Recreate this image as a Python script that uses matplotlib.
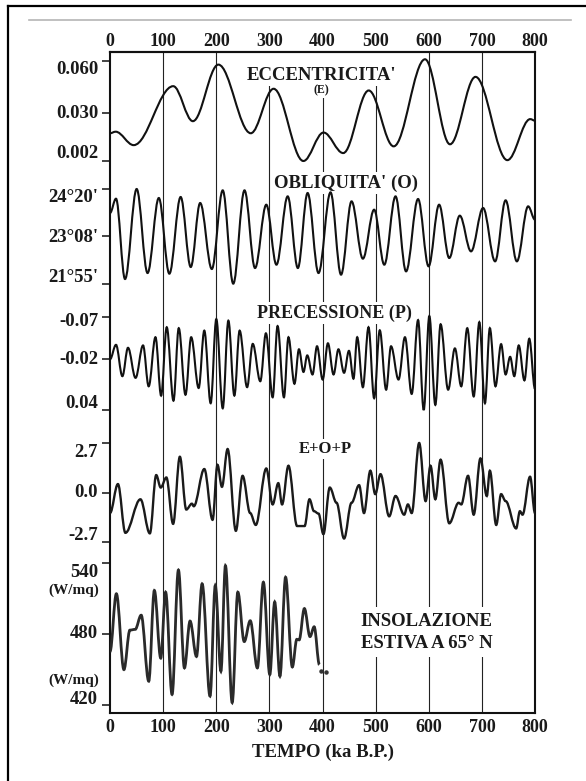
import matplotlib
matplotlib.use("Agg")
import matplotlib.pyplot as plt
from matplotlib.path import Path
from matplotlib.patches import PathPatch
from matplotlib.lines import Line2D

# ---------------- data ----------------
TIME_TICKS = [0, 100, 200, 300, 400, 500, 600, 700, 800]

# Eccentricity: extrema (ka, value)
ECC_T = [0, 10.6, 44.6, 119, 156, 204, 265, 308, 364, 402, 439, 487, 534, 593, 640, 688, 748, 791, 800]
ECC_V = [0.0181, 0.019, 0.0112, 0.0454, 0.0251, 0.0579, 0.0181, 0.0439, 0.002, 0.0185,
         0.0066, 0.0429, 0.0105, 0.061, 0.0117, 0.0508, 0.0025, 0.0263, 0.0254]
ECC_TICKS = [0.060, 0.030, 0.002]
ECC_LABELS = ["0.060", "0.030", "0.002"]

# Obliquity (degrees)
OBL_T = [0, 11.3, 28.3, 50.2, 70.7, 91.9, 111.7, 133, 152, 169.7, 191.7, 212.2, 232, 253.2,
         273, 294.2, 313.3, 334.5, 353.6, 372, 392.5, 415.1, 434.9, 454.7, 476, 497.2, 516.3,
         537.5, 557.3, 579.9, 599.7, 619.5, 638.6, 658.4, 679.6, 702.3, 724.9, 744.7, 765.9,
         787.1, 800]
OBL_V = [23.723, 24.087, 22.043, 24.333, 22.196, 24.104, 22.179, 24.13, 22.349, 23.977,
         22.298, 24.299, 21.925, 24.299, 22.323, 23.934, 22.408, 24.146, 22.323, 24.231,
         22.196, 24.248, 22.154, 24.019, 22.561, 23.807, 22.408, 24.146, 22.238, 24.079,
         22.366, 23.934, 22.578, 23.655, 22.747, 23.85, 22.493, 24.045, 22.493, 23.892, 23.553]
OBL_TICKS = [24 + 20 / 60, 23 + 8 / 60, 21 + 55 / 60]
OBL_LABELS = ["24°20'", "23°08'", "21°55'"]

# Precession index (axis inverted): start, peaks, troughs, end
PREC_START = (0, -0.020)
PREC_PEAK_T = [11.3, 33.9, 62.2, 85.6, 106.8, 129.4, 152.8, 177.5, 200.1, 222.8, 244, 268.7,
               293.5, 315.4, 335.9, 355.7, 371.3, 389.7, 410.2, 430, 449.8, 465.3, 486.6,
               507.8, 529, 555.2, 579.9, 601.1, 622.3, 649.2, 672.5, 695.2, 715, 736.2,
               753.2, 769.4, 789.2]
PREC_PEAK_V = [-0.0371, -0.0336, -0.0364, -0.0461, -0.0579, -0.0568, -0.0461, -0.0539,
               -0.0675, -0.0657, -0.0539, -0.0382, -0.0507, -0.0593, -0.0461, -0.0318,
               -0.0246, -0.0354, -0.0389, -0.0318, -0.030, -0.0461, -0.0579, -0.0543,
               -0.0354, -0.0461, -0.0664, -0.0711, -0.0614, -0.0329, -0.0568, -0.0639,
               -0.0568, -0.0379, -0.0229, -0.0364, -0.0443]
PREC_TROUGH_T = [23.3, 48.1, 72.8, 96.2, 119.5, 142.1, 166.9, 189.5, 212.2, 234.1, 258.1,
                 282.9, 306.2, 327.4, 347.2, 364.2, 381.2, 400.3, 420.8, 440.6, 458.3, 476,
                 497.2, 519.8, 543.1, 567.9, 590.5, 612.4, 636.5, 661.2, 684.6, 705.8,
                 725.6, 744.7, 761, 780.1]
PREC_TROUGH_V = [0.0, 0.002, 0.012, 0.023, 0.029, 0.022, 0.014, 0.032, 0.038, 0.023, 0.013,
                 0.006, 0.025, 0.025, 0.009, -0.005, -0.002, 0.004, -0.002, -0.004, 0.003,
                 0.013, 0.026, 0.016, 0.004, 0.021, 0.040, 0.034, 0.016, 0.012, 0.024, 0.032,
                 0.012, -0.002, 0.0, 0.005]
PREC_END = (800, 0.015)
PREC_TICKS = [-0.07, -0.02, 0.04]
PREC_LABELS = ["-0.07", "-0.02", "0.04"]

# E+O+P combined
EOP_T = [0, 14.9, 29, 57.3, 75, 87, 95.5, 106.1, 118.8, 131.5, 143.6, 154.2, 157.7, 177.5,
         193.1, 202.3, 210.7, 221.4, 236.9, 249.6, 263.8, 274.4, 294.2, 306.2, 316.8, 323.9,
         335.9, 352.2, 366.3, 375.5, 384, 392.5, 401.7, 413.7, 426.4, 440.6, 454.7, 468.9,
         478.1, 490.1, 499.3, 509.2, 525.5, 537.5, 553.7, 560.8, 567.9, 582, 594.1, 603.3,
         612.4, 622.3, 638.6, 656.3, 661.2, 674, 684.6, 697.3, 709.3, 715, 727, 736.2,
         744.7, 764.5, 771.6, 776.5, 790.7, 800]
EOP_V = [-1.12, 0.46, -2.20, -0.37, -2.23, 0.95, 0.27, 0.82, -1.71, 1.95, -0.93, -0.61,
         -0.75, 1.28, -1.49, 1.51, 0.31, 2.37, -2.09, 0.91, -1.12, -1.77, 1.31, -0.65, 0.51,
         -0.65, 1.46, -1.83, -1.83, -0.37, -1.02, -1.15, -2.27, 0.27, -0.56, -2.51, -0.56,
         0.40, -1.12, 1.19, -0.09, 1.00, -1.30, -0.19, -1.21, -0.65, -1.12, 2.70, -0.47,
         1.46, -0.37, 1.79, -1.68, -0.56, -0.65, 0.91, -1.21, 1.86, -0.19, 1.19, -1.77,
         -0.09, -0.47, -1.96, -1.02, -1.21, 0.86, -1.12]
EOP_TICKS = [2.7, 0.0, -2.7]
EOP_LABELS = ["2.7", "0.0", "-2.7"]

# Summer insolation at 65 N (W/m2), only first ~400 ka
INS_T = [0, 12, 26.2, 37.5, 47.4, 58.7, 72.9, 83.5, 95.5, 104.7, 116.8, 128.8, 140.1, 150.7,
         162.8, 173.4, 188.3, 198.2, 208.8, 217.3, 230, 240.6, 252.7, 264, 277.4, 288.7,
         300.8, 310, 319.9, 330.5, 343.2, 351.7, 356, 365.9, 376.5, 384.3, 394.2]
INS_V = [465.2, 514, 449.9, 483.3, 483.9, 495.9, 440.1, 516.8, 459.6, 515.4, 428.9, 534.1,
         451.3, 490.9, 461, 522.4, 427.5, 521, 448.5, 537.8, 422, 515.4, 473.6, 491.2, 451.3,
         523.8, 445.7, 507.1, 444.3, 528, 452.1, 475.5, 475, 501.5, 477.8, 486.1, 454.1]
INS_DOTS_T = [398, 407]
INS_DOTS_V = [449, 448]
INS_TICKS = [540, 480, 420]
INS_LABELS = ["540", "480", "420"]

# ---------------- layout ----------------
W, H = 586, 781
BOX_L, BOX_R, BOX_T, BOX_B = 110, 535, 52, 713
FONT = "Liberation Serif"
TXT = "#1a1a1a"
# pixel row where each inner vertical line starts (some begin below the top title)
VLINE_TOP = {100: 52, 200: 52, 300: 84, 400: 90, 500: 82, 600: 52, 700: 52}

fig = plt.figure(figsize=(W / 100, H / 100), dpi=100)
fig.patch.set_facecolor("white")


def fx(px):
    return px / W


def fy(py):
    return 1 - py / H


def yfrac(py):
    return (BOX_B - py) / (BOX_B - BOX_T)


rect = [fx(BOX_L), fy(BOX_B), fx(BOX_R) - fx(BOX_L), fy(BOX_T) - fy(BOX_B)]

# main frame axes
ax = fig.add_axes(rect)
ax.set_xlim(0, 800)
ax.set_ylim(0, 1)
for s in ax.spines.values():
    s.set_linewidth(1.5)
    s.set_color("#111111")
ax.set_yticks([])
ax.set_xticks(TIME_TICKS)
ax.set_xticklabels([str(t) for t in TIME_TICKS])
ax.tick_params(axis="x", bottom=True, labelbottom=True, length=0, pad=4.5,
               labelsize=13, labelcolor=TXT)
for lab in ax.get_xticklabels():
    lab.set_fontfamily(FONT)
    lab.set_fontweight("bold")

sec = ax.secondary_xaxis("top")
sec.set_xticks(TIME_TICKS)
sec.set_xticklabels([str(t) for t in TIME_TICKS])
sec.tick_params(axis="x", length=0, pad=1.5, labelsize=13, labelcolor=TXT)
sec.spines["top"].set_linewidth(1.5)
sec.spines["top"].set_color("#111111")
for lab in sec.get_xticklabels():
    lab.set_fontfamily(FONT)
    lab.set_fontweight("bold")

for t in TIME_TICKS[1:-1]:
    ax.vlines(t, 0, yfrac(VLINE_TOP[t]), color="#222222", lw=0.8, zorder=1)


def title(x, py, s, size=13.5, ha="center", pad=1.5):
    ax.text(x, yfrac(py), s, ha=ha, va="center", fontsize=size, fontfamily=FONT,
            fontweight="bold", color=TXT, zorder=3,
            bbox=dict(facecolor="white", edgecolor="none", pad=pad))


title(398, 75, "ECCENTRICITA'")
title(398, 90, "(E)", size=8.5)
title(444, 183, "OBLIQUITA' (O)")
title(423, 313, "PRECESSIONE (P)", size=13)
title(406, 449, "E+O+P", size=12)
title(472, 621, "INSOLAZIONE", size=13.5, ha="left", pad=4)
title(472, 643, "ESTIVA A 65° N", size=13.5, ha="left", pad=4)

ax.text(400, yfrac(752), "TEMPO (ka B.P.)", ha="center", va="center", fontsize=13.5,
        fontfamily=FONT, fontweight="bold", color=TXT)


def smooth_path(xs, ys, k=0.36):
    verts = [(xs[0], ys[0])]
    codes = [Path.MOVETO]
    for i in range(1, len(xs)):
        dx = xs[i] - xs[i - 1]
        verts += [(xs[i - 1] + k * dx, ys[i - 1]), (xs[i] - k * dx, ys[i]), (xs[i], ys[i])]
        codes += [Path.CURVE4] * 3
    return Path(verts, codes)


def panel(anchor1, anchor2, ticks, labels, label_dy):
    """Sub-axes over full box; anchors give (value, pixel row) of two ticks."""
    (v1, p1), (v2, p2) = anchor1, anchor2
    slope = (v2 - v1) / (p2 - p1)
    vb = v1 + (BOX_B - p1) * slope
    vt = v1 + (BOX_T - p1) * slope
    a = fig.add_axes(rect, sharex=ax)
    a.set_ylim(vb, vt)
    a.patch.set_visible(False)
    for s in a.spines.values():
        s.set_visible(False)
    a.tick_params(axis="x", bottom=False, top=False, labelbottom=False, labeltop=False)
    a.set_yticks(ticks)
    a.set_yticklabels([])
    a.tick_params(axis="y", direction="out", length=5.8, width=1.1, color="#111111")
    for t, lab, dy in zip(ticks, labels, label_dy):
        a.annotate(lab, xy=(0, t), xycoords=("axes fraction", "data"),
                   xytext=(-8.5, -dy / 1.389), textcoords="offset points",
                   ha="right", va="center", fontsize=13.5, fontfamily=FONT,
                   fontweight="bold", color=TXT, annotation_clip=False)
    return a


# eccentricity
a_e = panel((0.060, 61), (0.002, 161), ECC_TICKS, ECC_LABELS, [9, 1, -8])
a_e.add_patch(PathPatch(smooth_path(ECC_T, ECC_V), fill=False, lw=1.5, ec="#111111"))

# obliquity
a_o = panel((OBL_TICKS[0], 189), (OBL_TICKS[2], 284), OBL_TICKS, OBL_LABELS, [9, 1, -7])
a_o.add_patch(PathPatch(smooth_path(OBL_T, OBL_V), fill=False, lw=1.5, ec="#111111"))

# precession
pt, pv = [PREC_START[0]], [PREC_START[1]]
for i in range(len(PREC_PEAK_T)):
    pt.append(PREC_PEAK_T[i]); pv.append(PREC_PEAK_V[i])
    if i < len(PREC_TROUGH_T):
        pt.append(PREC_TROUGH_T[i]); pv.append(PREC_TROUGH_V[i])
pt.append(PREC_END[0]); pv.append(PREC_END[1])
a_p = panel((-0.07, 317), (0.04, 410), PREC_TICKS, PREC_LABELS, [5, 0, -7])
a_p.add_patch(PathPatch(smooth_path(pt, pv), fill=False, lw=1.5, ec="#111111"))

# E+O+P
a_c = panel((2.7, 443), (-2.7, 542), EOP_TICKS, EOP_LABELS, [10, 0, -7])
a_c.add_patch(PathPatch(smooth_path(EOP_T, EOP_V), fill=False, lw=1.7, ec="#1a1a1a"))

# insolation
a_i = panel((540, 563), (420, 705), INS_TICKS, INS_LABELS, [10, 0, -6])
a_i.add_patch(PathPatch(smooth_path(INS_T, INS_V), fill=False, lw=2.0, ec="#2a2a2a"))
a_i.plot(INS_DOTS_T, INS_DOTS_V, "o", ms=2.2, color="#333333")
for py in (590, 680):
    fig.text(fx(99), fy(py), "(W/mq)", ha="right", va="center", fontsize=11,
             fontfamily=FONT, fontweight="bold", color=TXT)

# page frame decorations
fig.add_artist(Line2D([fx(8), fx(8)], [fy(6), 0], color="black", lw=1.6))
fig.add_artist(Line2D([fx(8), 1], [fy(6), fy(6)], color="black", lw=1.6))
fig.add_artist(Line2D([fx(29), fx(571)], [fy(20), fy(20)], color="#b5b5b5", lw=1.2))

fig.savefig("out.png", dpi=100, facecolor="white")
